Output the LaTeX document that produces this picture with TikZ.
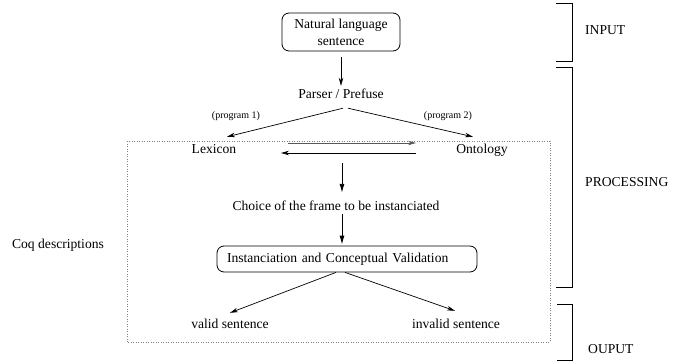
\documentclass[tikz,border=0pt]{standalone}
\usepackage{fontspec}
\setmainfont{Liberation Serif}
\usetikzlibrary{arrows.meta}
\begin{document}
\begin{tikzpicture}[x=1pt,y=-1pt,
  lbl/.style={font=\fontsize{13.6}{17}\selectfont, inner sep=0pt, text height=10pt, text depth=3pt},
  small/.style={font=\fontsize{10}{12}\selectfont, inner sep=0pt},
  rbox/.style={draw, rounded corners=7pt, line width=0.8pt, font=\fontsize{13.6}{17}\selectfont},
  thinarrow/.style={line width=0.7pt, -{Stealth[length=8pt,width=4.5pt,inset=2.5pt]}},
  boldarrow/.style={line width=0.9pt, -{Latex[length=9pt,width=5pt]}},
  bracket/.style={line width=0.9pt},
  dotbox/.style={line width=0.8pt, gray, dash pattern=on 0.8pt off 1.7pt},
]
\useasboundingbox (0,0) rectangle (686,364);
% dotted frame
\draw[dotbox] (127,141) rectangle (550,342);
% nodes
\node[rbox, minimum width=118pt, minimum height=38pt, align=center, inner sep=2pt] (nl) at (341,32) {Natural language\\sentence};
\node[lbl] (parser) at (341,95) {Parser / Prefuse};
\node[small] (p1) at (236,116) {(program 1)};
\node[small] (p2) at (448,116) {(program 2)};
\node[lbl] (lex) at (214,150) {Lexicon};
\node[lbl] (ont) at (482,150) {Ontology};
\node[lbl] (choice) at (336,207) {Choice of the frame to be instanciated};
\node[rbox, minimum width=260pt, minimum height=26pt, text width=240pt, align=left, inner xsep=10pt, inner ysep=0pt] (inst) at (347,259) {Instanciation and Conceptual Validation};
\node[lbl] (coq) at (58,245) {Coq descriptions};
\node[lbl] (valid) at (230,325) {valid sentence};
\node[lbl] (invalid) at (456,325) {invalid sentence};
\node[lbl, anchor=west] (input) at (585,31) {INPUT};
\node[lbl, anchor=west] (proc) at (585,183) {PROCESSING};
\node[lbl, anchor=west] (output) at (588,350) {OUPUT};
% coordinates for floating arrows
\coordinate (a1s) at (288,143);
\coordinate (a1e) at (416,143);
\coordinate (a2s) at (416,153);
\coordinate (a2e) at (281,153);
\coordinate (d1) at (342,163);
% connectors
\draw[thinarrow, shorten <=6pt, shorten >=2.5pt] (nl.south) -- (parser.north);
\draw[thinarrow] ([shift={(2,6.5)}]parser.south) -- ([shift={(13,-6.5)}]lex.north);
\draw[thinarrow] ([shift={(7,6.5)}]parser.south) -- ([shift={(-9,-6.5)}]ont.north);
\draw[thinarrow, gray!70!black] (a1s) -- (a1e);
\draw[thinarrow] (a2s) -- (a2e);
\draw[boldarrow, shorten >=7.5pt] (d1) -- (d1 |- choice.north);
\draw[boldarrow, shorten >=1pt] ([xshift=6pt]choice.south) -- ([xshift=-5pt]inst.north);
\draw[thinarrow] ([xshift=-11pt]inst.south) -- ([shift={(0,-5.5)}]valid.north);
\draw[thinarrow] ([xshift=-2pt]inst.south) -- ([shift={(-1,-7.5)}]invalid.north);
% brackets
\draw[bracket] (556,3) -- (572,3) -- (572,61) -- (556,61);
\draw[bracket] (556,67) -- (572,67) -- (572,287) -- (556,287);
\draw[bracket] (557,304) -- (572,304) -- (572,360) -- (557,360);
\end{tikzpicture}
\end{document}
